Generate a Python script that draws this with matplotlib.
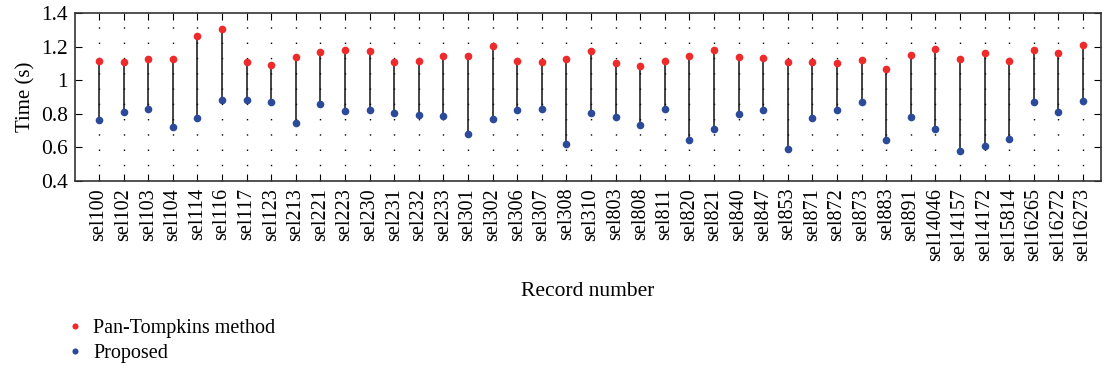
import numpy as np
import matplotlib.pyplot as plt

records = ["sel100", "sel102", "sel103", "sel104", "sel114", "sel116", "sel117", "sel123",
           "sel213", "sel221", "sel223", "sel230", "sel231", "sel232", "sel233", "sel301",
           "sel302", "sel306", "sel307", "sel308", "sel310", "sel803", "sel808", "sel811",
           "sel820", "sel821", "sel840", "sel847", "sel853", "sel871", "sel872", "sel873",
           "sel883", "sel891", "sel14046", "sel14157", "sel14172", "sel15814", "sel16265",
           "sel16272", "sel16273"]

pan_tompkins = [1.116, 1.108, 1.124, 1.126, 1.263, 1.302, 1.110, 1.090,
                1.139, 1.169, 1.177, 1.171, 1.111, 1.117, 1.145, 1.147,
                1.205, 1.116, 1.110, 1.128, 1.173, 1.104, 1.082, 1.117,
                1.143, 1.179, 1.137, 1.132, 1.110, 1.111, 1.100, 1.122,
                1.068, 1.149, 1.185, 1.126, 1.161, 1.116, 1.181,
                1.159, 1.207]

proposed = [0.762, 0.810, 0.829, 0.724, 0.774, 0.883, 0.885, 0.873,
            0.744, 0.857, 0.817, 0.823, 0.804, 0.794, 0.790, 0.678,
            0.770, 0.825, 0.829, 0.621, 0.804, 0.782, 0.732, 0.829,
            0.645, 0.710, 0.796, 0.823, 0.591, 0.776, 0.823, 0.869,
            0.645, 0.784, 0.708, 0.581, 0.607, 0.652, 0.871,
            0.811, 0.879]

plt.rcParams['font.family'] = ['Liberation Serif', 'DejaVu Serif']

fig = plt.figure(figsize=(11.07, 3.71), dpi=100)
ax = fig.add_axes([0.0678, 0.512, 0.9268, 0.453])

x = np.arange(len(records))
ax.vlines(x, proposed, pan_tompkins, color='#111111', lw=1.1, zorder=2)
ax.plot(x, pan_tompkins, 'o', color='#ee2a2a', ms=5.5, mec='none', zorder=3,
        label='Pan-Tompkins method')
ax.plot(x, proposed, 'o', color='#2c4a9a', ms=5.5, mec='none', zorder=3,
        label='Proposed')

ax.set_xlim(-0.97, 40.73)
ax.set_ylim(0.4, 1.4)
ax.set_yticks([0.4, 0.6, 0.8, 1.0, 1.2, 1.4])
ax.set_yticklabels(['0.4', '0.6', '0.8', '1', '1.2', '1.4'])
ax.set_xticks(x)
ax.set_xticklabels(records, rotation=90)
ax.tick_params(direction='in', top=True, right=True, length=5)
ax.tick_params(axis='x', labelsize=14.5, pad=5)
ax.tick_params(axis='y', labelsize=15.5, pad=5)
ax.grid(axis='x', color='black', linestyle=(0, (1, 10)), lw=1)
for s in ax.spines.values():
    s.set_linewidth(1.2)
    s.set_color('#333333')

ax.set_ylabel('Time (s)', fontsize=15, labelpad=4)
ax.set_xlabel('Record number', fontsize=15.5, labelpad=15)

fig.legend(loc='upper left', bbox_to_anchor=(0.055, 0.162), frameon=False,
           fontsize=14.5, handlelength=0.6, handletextpad=0.6, labelspacing=0.3,
           markerscale=0.8, borderaxespad=0)

fig.savefig('out.png', dpi=100)
